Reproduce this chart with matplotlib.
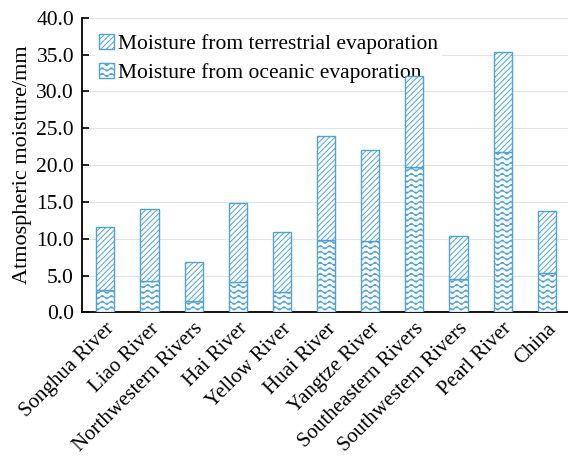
import numpy as np
import matplotlib
matplotlib.use("Agg")
import matplotlib.pyplot as plt
import matplotlib.hatch as mhatch
from matplotlib.path import Path

# ---- data ----
categories = ["Songhua River", "Liao River", "Northwestern Rivers", "Hai River",
              "Yellow River", "Huai River", "Yangtze River", "Southeastern Rivers",
              "Southwestern Rivers", "Pearl River", "China"]
oceanic = [3.1, 4.2, 1.6, 4.1, 2.7, 9.8, 9.7, 19.7, 4.5, 21.8, 5.3]
total = [11.6, 14.0, 6.9, 14.8, 10.9, 24.0, 22.0, 32.1, 10.4, 35.3, 13.7]
terrestrial = [t - o for t, o in zip(total, oceanic)]
yticks = [0, 5, 10, 15, 20, 25, 30, 35, 40]
ytick_labels = ["0.0", "5.0", "10.0", "15.0", "20.0", "25.0", "30.0", "35.0", "40.0"]
legend_labels = ["Moisture from terrestrial evaporation", "Moisture from oceanic evaporation"]


# ---- custom wave hatch ('~') ----
class WaveHatch(mhatch.HatchPatternBase):
    npts = 9

    def __init__(self, hatch, density):
        self.num_rows = int(hatch.count('~') * density)
        self.periods = int(round(self.num_rows * 0.6)) if self.num_rows else 0
        self.num_vertices = self.num_rows * (self.periods * self.npts + 1) if self.num_rows else 0

    def set_vertices_and_codes(self, vertices, codes):
        rows, step = np.linspace(0.0, 1.0, self.num_rows, False, retstep=True)
        rows += step / 2.0
        n = self.periods * self.npts + 1
        x = np.linspace(0.0, 1.0, n)
        amp = step * 0.3
        wave = amp * np.sin(2 * np.pi * self.periods * x)
        for i, r in enumerate(rows):
            seg = slice(i * n, (i + 1) * n)
            vertices[seg, 0] = x
            vertices[seg, 1] = r + wave
            codes[seg] = Path.LINETO
            codes[i * n] = Path.MOVETO


mhatch._hatch_types.append(WaveHatch)
mhatch._validate_hatch_pattern = lambda h: None

plt.rcParams['font.family'] = ['Liberation Serif', 'DejaVu Serif']
plt.rcParams['hatch.color'] = '#3d9ad8'
plt.rcParams['hatch.linewidth'] = 0.7

blue = '#4aa3df'
fs = 15.5

fig = plt.figure(figsize=(5.68, 4.58), dpi=100)
ax = fig.add_axes([0.145, 0.318, 0.855, 0.643])

x = np.arange(len(categories))
w = 0.41
b1 = ax.bar(x, oceanic, w, color='white', edgecolor=blue, hatch='~~~', linewidth=1.0, zorder=3)
b2 = ax.bar(x, terrestrial, w, bottom=oceanic, color='white', edgecolor=blue, hatch='//////',
            linewidth=1.0, zorder=3)

ax.set_xlim(-0.52, 10.48)
ax.set_ylim(0, 40)
ax.set_yticks(yticks)
ax.set_yticklabels(ytick_labels)
ax.set_xticks(x)
ax.set_xticklabels(categories, rotation=45, ha='right', rotation_mode='anchor')
ax.tick_params(axis='y', direction='in', length=5, width=1.2, labelsize=fs, pad=6)
ax.tick_params(axis='x', length=0, labelsize=15, pad=5)
ax.grid(axis='y', color='#e3e3e3', linewidth=0.8, zorder=0)
ax.set_axisbelow(True)
for s in ['top', 'right']:
    ax.spines[s].set_visible(False)
for s in ['left', 'bottom']:
    ax.spines[s].set_linewidth(1.3)
ax.set_ylabel("Atmospheric moisture/mm", fontsize=16, labelpad=3)

leg = ax.legend([b2, b1], legend_labels, loc='upper left', bbox_to_anchor=(0.025, 0.96),
                fontsize=fs, frameon=True, fancybox=False, edgecolor='none', framealpha=1,
                handlelength=0.7, handleheight=0.7, handletextpad=0.2, labelspacing=0.4,
                borderpad=0.2, borderaxespad=0.0)
leg.set_zorder(2.5)

fig.savefig("out.png", dpi=100)
